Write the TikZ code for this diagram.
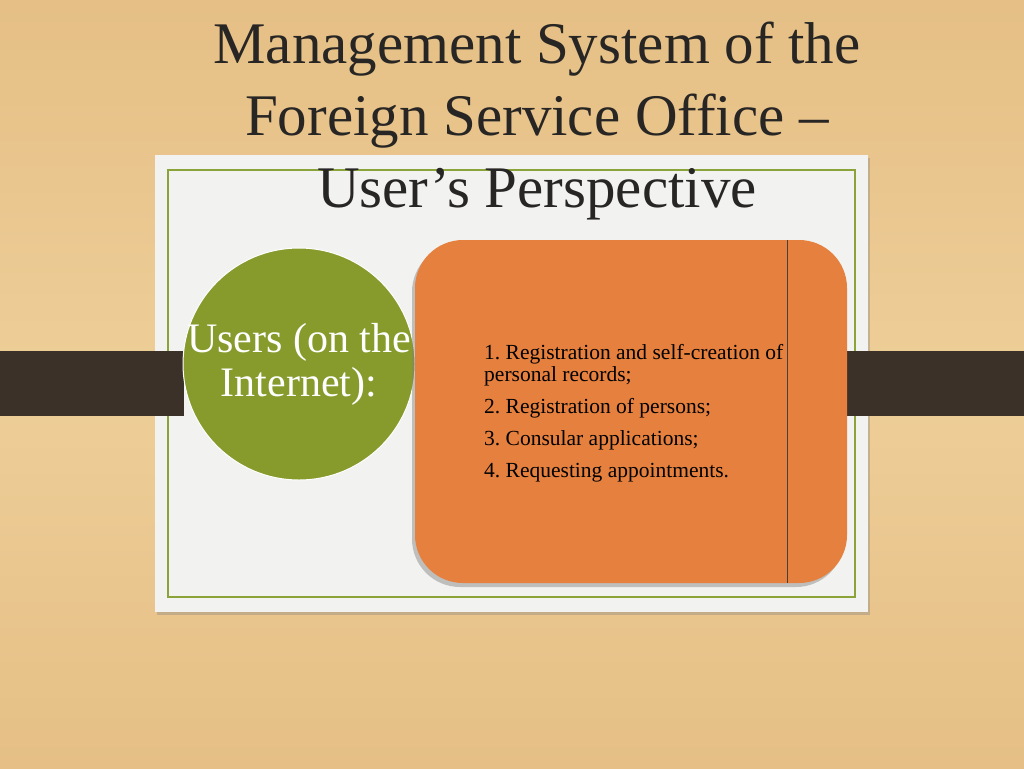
\documentclass[tikz,border=0pt]{standalone}
\usepackage{fontspec}
\setmainfont{Liberation Serif}
\usepackage{xcolor}
\usepackage{tikz}
\usetikzlibrary{positioning,calc,shadows,shapes.geometric}
\frenchspacing

\begin{document}
\begin{tikzpicture}[x=1pt,y=-1pt]
	\definecolor{woodtan}{RGB}{229,191,133}
	\definecolor{woodlight}{RGB}{238,206,152}
	\definecolor{paper}{RGB}{242,242,240}
	\definecolor{frameg}{RGB}{138,164,58}
	\definecolor{usergreen}{RGB}{134,155,44}
	\definecolor{taskorange}{RGB}{230,128,62}
	\definecolor{bandbrown}{RGB}{60,49,40}
	\definecolor{titlegray}{RGB}{40,38,36}
	\definecolor{sepgray}{RGB}{70,62,56}
	\tikzset{
		titletxt/.style={
			text=titlegray,
			align=center,
			inner sep=0pt,
			font=\fontsize{59}{72}\selectfont
		},
		userdisc/.style={
			circle,
			fill=usergreen,
			draw=white,
			line width=1pt,
			minimum size=232pt,
			inner sep=0pt
		},
		usertxt/.style={
			text=white,
			align=center,
			inner sep=0pt,
			font=\fontsize{42}{44}\selectfont
		},
		taskbox/.style={
			rectangle,
			rounded corners=48pt,
			fill=taskorange,
			minimum width=432pt,
			minimum height=343pt,
			drop shadow={shadow xshift=-3pt,shadow yshift=-4pt,opacity=0.45}
		},
		tasktxt/.style={
			text=black,
			align=left,
			inner sep=0pt,
			font=\fontsize{21.5}{22}\selectfont
		},
		band/.style={fill=bandbrown}
	}

	\useasboundingbox (0,0) rectangle (1024,768);

	% ======= Background =======
	\shade[top color=woodtan,bottom color=woodtan,middle color=woodlight] (0,0) rectangle (1024,768);

	% ======= Paper panel =======
	\fill[paper,drop shadow={shadow xshift=2pt,shadow yshift=-3pt,opacity=0.35}] (155,155) rectangle (868,612);
	\draw[frameg,line width=1.5pt] (168,170) rectangle (855,597);

	% ======= Title =======
	\node[titletxt,anchor=north] (title) at (537,22)
		{Management System of the\\Foreign Service Office –\\User’s Perspective};

	% ======= Band =======
	\fill[band] (0,351) rectangle (184,416);
	\fill[band] (847,351) rectangle (1024,416);

	% ======= Users =======
	\node[userdisc] (users) at (299,364) {};
	\node[usertxt] (userslbl) at (users.center) {Users (on the\\Internet):};

	% ======= Tasks =======
	\node[taskbox] (tasks) at (631,411.5) {};
	\draw[sepgray,line width=1pt] ([xshift=156pt]tasks.north) -- ([xshift=156pt]tasks.south);
	\node[tasktxt,anchor=north west] (tasklist) at (484,344.5)
		{1. Registration and self-creation of\\personal records;\\[10pt]
		 2. Registration of persons;\\[10pt]
		 3. Consular applications;\\[10pt]
		 4. Requesting appointments.};
\end{tikzpicture}
\end{document}
